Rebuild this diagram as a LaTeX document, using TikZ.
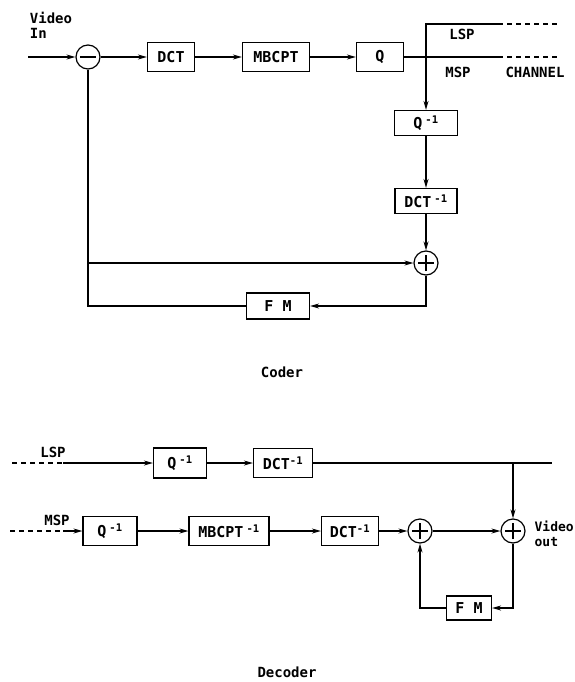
\documentclass[tikz,border=0pt]{standalone}
\usepackage{fontspec}
\setmainfont{DejaVu Sans Mono}
\usepackage{tikz}
\usetikzlibrary{positioning}
\usetikzlibrary{arrows.meta}

\begin{document}
\begin{tikzpicture}[
            > = {Stealth[length=9pt, width=5pt]}, % arrow head style
            x = 1pt, y = -1pt, % one unit per pixel, y going down
            line width = 1.2pt, % line style
            font = \bfseries\fontsize{14}{15}\selectfont
        ]

        \tikzstyle{block}=[
            draw,
            rectangle,
            minimum height = 29pt,
            inner sep = 2pt,
            font = \bfseries\fontsize{15}{16}\selectfont
        ]
        \tikzstyle{sum}=[
            draw,
            circle,
            minimum size = 24pt,
            inner sep = 0pt
        ]
        \tikzstyle{minus}=[sum, path picture={
            \draw (path picture bounding box.center) ++(-8pt,0pt) -- ++(16pt,0pt);}]
        \tikzstyle{plus}=[sum, path picture={
            \draw (path picture bounding box.center) ++(-8pt,0pt) -- ++(16pt,0pt);
            \draw (path picture bounding box.center) ++(0pt,-8pt) -- ++(0pt,16pt);}]
        \tikzstyle{channel}=[dash pattern = on 5pt off 4pt]

        \useasboundingbox (0,0) rectangle (575,682);

	% coder
        \node[align=left, anchor=west] (VIN) at (26,25) {Video\\In};
        \coordinate (IN) at (28,57);
        \node[minus] (SUB) at (88,57) {};
        \node[block, minimum width=47pt] (DCT) [right of=SUB, node distance=83pt] {DCT};
        \node[block, minimum width=67pt] (MBCPT) [right of=DCT, node distance=105pt] {MBCPT};
        \node[block, minimum width=47pt] (Q) [right of=MBCPT, node distance=104pt] {Q};

        \path[->] (IN) edge node {} (SUB);
        \path[->] (SUB) edge node {} (DCT);
        \path[->] (DCT) edge node {} (MBCPT);
        \path[->] (MBCPT) edge node {} (Q);

        % channel
        \coordinate (LSPA) at (426,24);
        \coordinate (LSPB) at (498,24);
        \coordinate (LSPC) at (558,24);
        \coordinate (MSPB) at (498,57);
        \coordinate (MSPC) at (558,57);
        \node (LSP) at (462,34) {LSP};
        \node (MSP) at (458,72) {MSP};
        \node (CH) at (535,72) {CHANNEL};

        \draw (Q) -- (MSPB);
        \draw[channel] (MSPB) -- (MSPC);
        \draw[channel] (LSPB) -- (LSPC);

        % local loop
        \node[block, minimum width=63pt, minimum height=25pt] (QI) at (426,123) {Q\hspace{3pt}\textsuperscript{-1}};
        \node[block, minimum width=62pt, minimum height=25pt] (DCTI) [below of=QI, node distance=78pt] {DCT\hspace{3pt}\textsuperscript{-1}};
        \node[plus] (ADD) [below of=DCTI, node distance=62pt] {};
        \node[block, minimum width=63pt, minimum height=26pt] (FM) at (278,306) {F M};

        \draw[->] (LSPB) -- (LSPA) -- (QI);
        \path[->] (QI) edge node {} (DCTI);
        \path[->] (DCTI) edge node {} (ADD);
        \draw[->] (ADD) |- (FM);
        \draw (FM) -| (SUB);
        \draw[->] (SUB |- ADD) -- (ADD);

        \node (CODER) at (282,372) {Coder};

	% decoder
        \node (LSP2) at (53,452) {LSP};
        \coordinate (LSPIN) at (12,463);
        \coordinate (LSPMID) at (63,463);
        \node[block, minimum width=53pt, minimum height=30pt] (QL) at (180,463) {Q\hspace{3pt}\textsuperscript{-1}};
        \node[block, minimum width=59pt] (DCTL) [right of=QL, node distance=103pt] {DCT\textsuperscript{-1}};
        \coordinate (LSPEND) at (552,463);

        \node (MSP2) at (57,520) {MSP};
        \coordinate (MSPIN) at (10,531);
        \coordinate (MSPMID) at (63,531);
        \node[block, minimum width=54pt] (QM) at (110,531) {Q\hspace{3pt}\textsuperscript{-1}};
        \node[block, minimum width=80pt] (MBCPTI) [right of=QM, node distance=119pt] {MBCPT\hspace{3pt}\textsuperscript{-1}};
        \node[block, minimum width=57pt] (DCTM) [right of=MBCPTI, node distance=121pt] {DCT\textsuperscript{-1}};
        \node[plus] (ADD1) [right of=DCTM, node distance=70pt] {};
        \node[plus] (ADD2) [right of=ADD1, node distance=93pt] {};
        \node[align=left, anchor=west, inner sep=1pt, font=\bfseries\fontsize{13}{15}\selectfont] (VOUT) at (533,534) {Video\\out};
        \node[block, minimum width=45pt, minimum height=24pt] (FM2) at (469,608) {F M};

        \draw[channel] (LSPIN) -- (LSPMID);
        \draw[->] (LSPMID) -- (QL);
        \path[->] (QL) edge node {} (DCTL);
        \draw (DCTL) -- (LSPEND);
        \draw[->] (LSPEND -| ADD2) -- (ADD2);

        \draw[channel] (MSPIN) -- (MSPMID);
        \draw[->] (MSPMID) -- (QM);
        \path[->] (QM) edge node {} (MBCPTI);
        \path[->] (MBCPTI) edge node {} (DCTM);
        \path[->] (DCTM) edge node {} (ADD1);
        \path[->] (ADD1) edge node {} (ADD2);
        \draw[->] (ADD2) |- (FM2);
        \draw[->] (FM2) -| (ADD1);

        \node (DECODER) at (287,672) {Decoder};

  \end{tikzpicture}
\end{document}
